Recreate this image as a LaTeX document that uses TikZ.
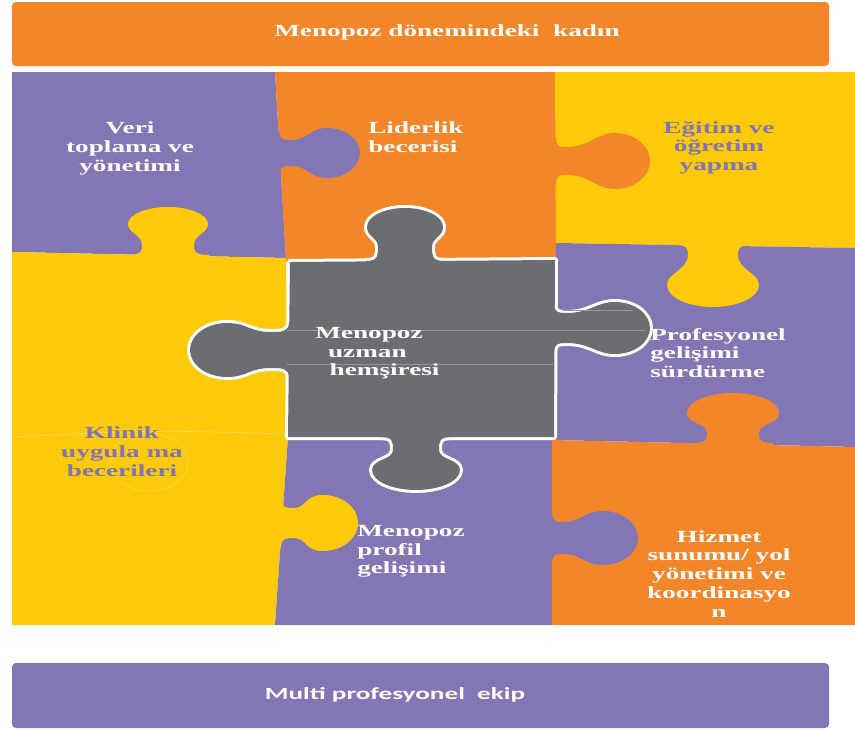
\documentclass[tikz,border=0pt]{standalone}
\usepackage{fontspec}
\setmainfont{Liberation Serif}
\newfontfamily\barfont{Carlito}

\definecolor{pzorange}{RGB}{244,134,42}
\definecolor{pzpurple}{RGB}{130,118,180}
\definecolor{pzyellow}{RGB}{254,202,10}
\definecolor{pzgray}{RGB}{108,109,113}
\definecolor{pztext}{RGB}{128,116,178}
\definecolor{pzline}{RGB}{150,151,155}

\tikzset{
  pics/knob/.style args={#1/#2/#3/#4/#5/#6}{code={
    \pgfmathsetmacro\kP{#1}\pgfmathsetmacro\kw{#2}\pgfmathsetmacro\kd{#3}
    \pgfmathsetmacro\kn{#4}\pgfmathsetmacro\kv{#5}\pgfmathsetmacro\kf{#6}
    \pgfmathsetmacro\kc{\kP-\kd}
    \pgfmathsetmacro\kq{\kv+0.5*(\kc-\kv)}
    \pgfmathsetmacro\kr{\kc-0.55*\kd}
    \pgfmathsetmacro\ks{\kc+0.55*\kd}
    \pgfmathsetmacro\kt{0.4*\kv}
    \pgfmathsetmacro\kx{0.55*\kw}
    \pgfmathsetmacro\ka{\kn+\kf}
    \path[pic actions] (-\ka,-8) -- (-\ka,0)
      .. controls (-\kn,0) and (-\kn,\kt) .. (-\kn,\kv)
      .. controls (-\kn,\kq) and (-\kw,\kr) .. (-\kw,\kc)
      .. controls (-\kw,\ks) and (-\kx,\kP) .. (0,\kP)
      .. controls (\kx,\kP) and (\kw,\ks) .. (\kw,\kc)
      .. controls (\kw,\kr) and (\kn,\kq) .. (\kn,\kv)
      .. controls (\kn,\kt) and (\kn,0) .. (\ka,0)
      -- (\ka,-8) -- cycle;
  }}
}

\newcommand\graypiece[1]{
  \path[#1] (290,262) -- (555,260) -- (554,437) -- (288,437) -- cycle;
  \pic[#1, rotate=180] at (405,261) {knob=53/38/19/27/14/12};
  \pic[#1, rotate=-90] at (289,350) {knob=99/27/37/18/18/10};
  \pic[#1, rotate=90] at (554,328) {knob=96/26/35/15/12/10};
  \pic[#1] at (416,437) {knob=53/44/20/23/13/12};
}

\begin{document}
\begin{tikzpicture}[x=1pt, y=-1pt,
  rim/.style={draw=white, line width=6pt, line join=round},
  core/.style={fill=pzgray},
  piece/.style={font=\fontsize{17}{18.8}\selectfont\bfseries, text=white, xscale=1.6, inner sep=0pt, align=center},
  banner/.style={rounded corners=4pt}]
\useasboundingbox (0,0) rectangle (855,731);

\fill[pzorange, banner] (12,2) rectangle (829,66);
\fill[pzpurple, banner] (12,663) rectangle (829,728);

\fill[pzpurple] (12,72) -- (275,72) -- (286,258) -- (12,252) -- cycle;
\fill[pzorange] (275,72) -- (555,72) -- (558,262) -- (286,262) -- cycle;
\fill[pzyellow] (555,72) -- (855,72) -- (855,248) -- (556,243) -- cycle;
\fill[pzyellow] (12,252) -- (286,258) -- (288,437) -- (275,625) -- (12,625) -- cycle;
\fill[pzpurple] (556,243) -- (855,248) -- (855,447) -- (552,440) -- cycle;
\fill[pzpurple] (288,437) -- (552,437) -- (552,625) -- (275,625) -- cycle;
\fill[pzorange] (552,440) -- (855,447) -- (855,625) -- (552,625) -- cycle;

\pic[fill=pzpurple, rotate=90] at (279,153) {knob=81/25/33/13/12/10};
\pic[fill=pzyellow, rotate=180] at (168,255) {knob=48/40/17/26/10/15};
\pic[fill=pzorange, rotate=90] at (556,161) {knob=94/28/35/14/10/10};
\pic[fill=pzyellow] at (713,245) {knob=62/46/22/25/10/14};
\pic[fill=pzorange, rotate=180] at (733,443) {knob=50/46/20/26/10/14};
\pic[fill=pzyellow, rotate=90] at (281,523) {knob=77/28/35/15/12/10};
\pic[fill=pzpurple, rotate=90] at (552,538) {knob=86/27/35/16/10/10};

\graypiece{rim}
\graypiece{core}

\draw[pzline, line width=0.6pt] (287,330) -- (645,330);
\draw[pzline, line width=0.6pt] (287,364) -- (553,364);
\draw[pzline, line width=0.6pt] (563,310) -- (633,310);
\draw[white, opacity=0.35, line width=0.6pt] (12,437) .. controls (150,430) .. (285,434);
\draw[white, opacity=0.3, line width=0.6pt] (149,462) ellipse [x radius=39, y radius=29];

\node[piece] (kadin) at (447,32) {Menopoz dönemindeki~ kadın};
\node[piece, anchor=north] (veri) at (130,122) {Veri\\toplama ve\\yönetimi};
\node[piece, anchor=north west, align=left] (lider) at (368,122) {Liderlik\\becerisi};
\node[piece, anchor=north, text=pztext] (egitim) at (719,121) {Eğitim ve\\öğretim\\yapma};
\node[piece, anchor=north west, align=left] (uzman) at (315,327) {Menopoz\\\hspace*{8pt}uzman\\\hspace*{9pt}hemşiresi};
\node[piece, anchor=north west, align=left] (prof) at (650,328) {Profesyonel\\gelişimi\\sürdürme};
\node[piece, anchor=north, text=pztext] (klinik) at (122,427) {Klinik\\uygula ma\\becerileri};
\node[piece, anchor=north west, align=left] (profil) at (357,525) {Menopoz\\profil\\gelişimi};
\node[piece, anchor=north] (hizmet) at (719,530) {Hizmet\\sunumu/ yol\\yönetimi ve\\koordinasyo\\n};
\node[piece, font=\barfont\fontsize{17}{20}\selectfont\bfseries] (ekip) at (395,695) {Multi profesyonel~ ekip};
\end{tikzpicture}
\end{document}
